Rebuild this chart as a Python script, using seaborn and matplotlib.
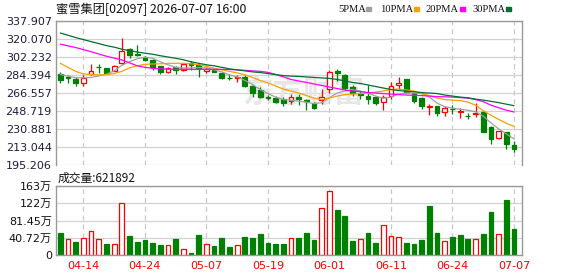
"""
Candlestick chart with moving averages and volume - 蜜雪集团 [02097]
Output: out.png
"""

import matplotlib.pyplot as plt
import matplotlib.patches as mpatches
import numpy as np
import seaborn as sns

sns.set_theme(style='white')
plt.rcParams['font.family'] = ['DejaVu Sans', 'Noto Sans CJK SC']
plt.rcParams['axes.unicode_minus'] = False

RED = '#FF0000'
GREEN = '#008000'
MA_COLORS = {'5PMA': '#A0A0A0', '10PMA': '#F5A200', '20PMA': '#FF00FF', '30PMA': '#006F32'}

# ---- data (60 trading days) ----
opens = [285.0, 282.1, 280.8, 276.8, 285.7, 292.7, 291.0, 288.7, 295.9, 309.8,
         305.5, 302.6, 299.3, 293.0, 287.0, 292.3, 289.0, 296.0, 294.0, 288.7,
         290.0, 286.7, 281.8, 281.8, 282.8, 273.5, 269.2, 262.5, 261.9, 260.3,
         258.9, 262.3, 259.9, 256.6, 259.6, 270.5, 288.7, 284.7, 272.5, 266.2,
         263.8, 262.3, 257.6, 263.6, 274.0, 280.6, 266.8, 262.0, 252.5, 253.5,
         247.3, 251.0, 247.7, 244.2, 245.9, 247.5, 233.2, 222.0, 227.9, 215.2]
highs = [287.7, 284.4, 282.1, 284.1, 295.3, 295.0, 291.7, 294.3, 321.4, 311.5,
         314.5, 303.5, 300.6, 293.6, 292.7, 293.3, 296.6, 298.6, 296.0, 292.7,
         291.0, 287.7, 285.4, 284.7, 284.4, 274.5, 272.9, 264.9, 263.6, 262.2,
         265.9, 265.6, 260.9, 257.6, 270.5, 289.3, 290.0, 285.4, 274.2, 268.5,
         274.7, 263.4, 264.9, 277.3, 282.1, 280.9, 267.0, 262.5, 255.6, 254.0,
         254.0, 254.2, 252.0, 246.5, 256.4, 248.5, 233.5, 228.9, 228.2, 218.5]
lows = [276.8, 276.8, 273.8, 273.8, 284.4, 286.7, 286.0, 288.4, 295.3, 300.9,
        303.2, 297.9, 289.4, 285.1, 286.0, 285.1, 288.7, 289.4, 282.8, 286.7,
        287.0, 280.4, 279.4, 277.8, 272.9, 262.9, 261.2, 259.6, 256.3, 254.0,
        255.6, 254.3, 250.0, 250.6, 255.6, 266.2, 278.1, 269.9, 263.8, 260.8,
        256.0, 254.7, 250.0, 260.5, 269.2, 267.0, 256.7, 250.8, 245.0, 243.5,
        244.0, 245.5, 242.0, 241.0, 243.0, 228.0, 216.0, 220.8, 211.0, 208.0]
closes = [279.5, 281.5, 276.1, 281.8, 288.4, 292.0, 286.7, 293.3, 308.5, 304.5,
          303.9, 299.3, 292.7, 287.7, 291.7, 289.7, 295.0, 294.0, 290.0, 290.3,
          287.7, 281.1, 281.1, 282.4, 273.5, 266.2, 262.9, 262.0, 258.0, 257.0,
          262.3, 260.6, 258.3, 251.6, 262.9, 287.7, 286.0, 271.5, 266.5, 264.5,
          260.5, 256.7, 262.9, 273.0, 276.5, 268.0, 259.1, 254.0, 253.8, 246.8,
          251.6, 250.6, 248.3, 243.8, 247.2, 228.3, 220.5, 228.6, 216.0, 211.5]

ma5 = [285.0, 283.2, 281.8, 281.5, 282.0, 283.5, 285.2, 288.5, 294.0, 297.5,
       300.5, 302.0, 301.0, 297.5, 294.5, 292.0, 291.2, 291.5, 291.8, 291.5,
       289.5, 287.5, 284.5, 282.5, 279.0, 275.0, 270.0, 266.0, 262.5, 260.0,
       259.5, 258.5, 257.5, 256.0, 257.0, 262.0, 266.5, 268.5, 270.0, 268.5,
       266.5, 263.5, 261.5, 262.5, 265.5, 266.5, 266.5, 266.0, 262.5, 256.5,
       253.0, 251.5, 250.5, 249.5, 248.0, 243.5, 237.0, 231.0, 226.0, 221.0]
ma10 = [296.0, 292.0, 288.0, 285.5, 284.8, 284.5, 284.8, 285.8, 288.0, 291.5,
        293.5, 295.0, 295.3, 295.5, 295.8, 296.0, 296.0, 295.5, 294.5, 293.0,
        291.0, 289.5, 288.0, 286.5, 284.5, 282.0, 279.0, 276.5, 273.5, 270.5,
        268.5, 266.5, 264.0, 261.5, 260.0, 261.5, 263.5, 265.0, 265.5, 266.0,
        266.5, 267.5, 268.5, 270.0, 270.5, 269.5, 268.5, 266.0, 264.0, 261.5,
        260.0, 259.5, 259.0, 257.5, 254.5, 249.0, 244.5, 240.5, 236.5, 233.5]
ma20 = [315.0, 313.3, 311.6, 309.6, 307.5, 305.2, 303.0, 301.2, 299.3, 296.5,
        293.5, 292.0, 291.0, 290.5, 290.2, 290.0, 290.0, 290.0, 290.0, 290.0,
        290.0, 290.0, 289.8, 289.5, 289.0, 288.5, 288.0, 287.0, 285.0, 282.5,
        280.0, 278.5, 277.0, 275.5, 274.0, 272.5, 271.0, 269.5, 268.5, 268.0,
        267.0, 266.5, 266.0, 265.5, 265.0, 264.5, 264.3, 264.0, 263.5, 263.0,
        262.8, 262.5, 262.0, 261.5, 260.0, 258.0, 254.5, 252.0, 249.5, 247.8]
ma30 = [326.0, 323.8, 321.5, 319.5, 317.5, 315.5, 313.5, 312.0, 310.0, 308.5,
        307.2, 306.0, 305.0, 303.5, 302.2, 301.0, 299.5, 297.5, 296.0, 294.5,
        293.5, 292.0, 290.5, 289.5, 288.5, 287.5, 286.8, 285.8, 284.8, 283.8,
        283.3, 283.0, 282.5, 282.0, 281.5, 281.0, 280.0, 278.5, 277.0, 276.0,
        274.5, 273.0, 271.5, 270.0, 269.0, 268.3, 267.8, 267.0, 266.5, 266.0,
        264.5, 263.5, 262.5, 261.8, 260.5, 259.5, 258.3, 257.0, 255.5, 254.0]

# volume in 万 shares, and its colour (1 = red / up)
volume = [52.7, 37.0, 31.5, 39.4, 56.7, 37.0, 26.0, 25.2, 122.0, 44.9,
          31.5, 35.4, 29.1, 23.6, 23.6, 37.8, 13.4, 5.5, 47.2, 26.0,
          21.3, 40.2, 19.7, 23.6, 43.3, 40.9, 49.6, 29.1, 26.0, 26.0,
          39.4, 39.4, 52.7, 35.4, 110.2, 151.2, 106.3, 92.1, 33.9, 37.0,
          52.7, 29.1, 70.9, 44.9, 41.7, 29.1, 26.0, 35.4, 115.7, 52.7,
          33.1, 41.7, 47.2, 37.8, 37.8, 49.6, 101.6, 49.6, 129.9, 62.1892]
vol_up = [0, 1, 0, 1, 1, 1, 0, 1, 1, 0, 0, 0, 0, 0, 1, 0, 1, 0, 0, 1,
          0, 0, 0, 1, 0, 0, 0, 0, 0, 0, 1, 0, 0, 0, 1, 1, 0, 0, 0, 1,
          0, 0, 1, 1, 1, 0, 0, 0, 0, 0, 1, 0, 0, 0, 1, 0, 0, 1, 0, 0]

date_ticks = [3, 11, 19, 27, 35, 43, 51, 59]
date_labels = ['04-14', '04-24', '05-07', '05-19', '06-01', '06-11', '06-24', '07-07']

price_ticks = [195.206, 213.044, 230.881, 248.719, 266.557, 284.394, 302.232, 320.070, 337.907]
vol_ticks = [0, 40.72, 81.45, 122, 163]
vol_labels = ['0', '40.72万', '81.45万', '122万', '163万']

W, H = 578, 276
fig = plt.figure(figsize=(W / 100, H / 100), dpi=100, facecolor='white')
ax_p = fig.add_axes([56 / W, 1 - 165 / H, 466 / W, 144 / H])
ax_v = fig.add_axes([56 / W, 1 - 255 / H, 466 / W, 69 / H])

x = np.arange(len(closes))
o, h, l, c = map(np.array, (opens, highs, lows, closes))
up = c > o
body_lo = np.minimum(o, c)
body_hi = np.maximum(o, c)
body_h = np.maximum(body_hi - body_lo, 0.35)
edge = np.where(up, RED, GREEN)
face = np.where(up, 'white', GREEN)

# wicks (kept outside the hollow bodies)
ax_p.vlines(x, body_hi, h, colors=edge, lw=0.9, zorder=2)
ax_p.vlines(x, l, body_lo, colors=edge, lw=0.9, zorder=2)
ax_p.bar(x, body_h, bottom=body_lo, width=0.62, color=face, edgecolor=edge,
         linewidth=0.9, zorder=2)

# moving averages
for name, vals in zip(MA_COLORS, (ma5, ma10, ma20, ma30)):
    sns.lineplot(x=x, y=vals, ax=ax_p, color=MA_COLORS[name], lw=0.9, zorder=3)

# watermark
ax_p.text(0.53, 0.5, '东方财富', transform=ax_p.transAxes, fontsize=22,
          fontweight='bold', color='#e6e6e6', ha='center', va='center',
          family=['Noto Sans CJK SC'], zorder=1)

# volume bars
vu = np.array(vol_up, dtype=bool)
ax_v.bar(x, volume, width=0.62, color=np.where(vu, 'white', GREEN),
         edgecolor=np.where(vu, RED, GREEN), linewidth=0.9, zorder=2)

for ax in (ax_p, ax_v):
    ax.set_xlim(-0.56, 60.04)
    ax.set_xticks(date_ticks)
    ax.grid(axis='y', color='#d2d2d2', lw=0.9, ls='-')
    ax.grid(axis='x', color='#c8c8c8', lw=0.9, ls=(0, (4, 3)))
    ax.set_axisbelow(True)
    ax.tick_params(length=0, pad=3, labelsize=8)
    for sp in ax.spines.values():
        sp.set_color('#999999')
        sp.set_linewidth(1.0)
    ax.set_xlabel('')
    ax.set_ylabel('')

ax_p.set_ylim(price_ticks[0], price_ticks[-1])
ax_p.set_yticks(price_ticks)
ax_p.set_yticklabels([f'{t:.3f}' for t in price_ticks], color='#1c1c3c')
ax_p.set_xticklabels([])
ax_p.spines['bottom'].set_visible(False)

ax_v.set_ylim(0, 163)
ax_v.set_yticks(vol_ticks)
ax_v.set_yticklabels(vol_labels, color='#111111')
ax_v.set_xticklabels(date_labels, color=RED)
ax_v.tick_params(axis='x', pad=4)

# header texts
fig.text(56 / W, 1 - 9 / H, '蜜雪集团[02097] 2026-07-07 16:00', fontsize=8.8,
         family=['Noto Sans CJK SC'], color='#111111', ha='left', va='center')
fig.text(58 / W, 1 - 178 / H, f'成交量:{int(round(volume[-1] * 1e4))}', fontsize=8.5,
         family=['Noto Sans CJK SC'], color='#111111', ha='left', va='center')

legend_x = [338, 380, 426, 472]
for (name, col), lx in zip(MA_COLORS.items(), legend_x):
    fig.text(lx / W, 1 - 9 / H, name, fontsize=7.6, family=['Liberation Serif'],
             color='#111111', ha='left', va='center')
    tw = len(name) * 6.0
    fig.patches.append(mpatches.Rectangle(((lx + tw + 4) / W, 1 - 10.5 / H), 5 / W, 3 / H,
                                          transform=fig.transFigure, color=col))

fig.savefig('out.png', dpi=100, facecolor='white')
plt.close(fig)
